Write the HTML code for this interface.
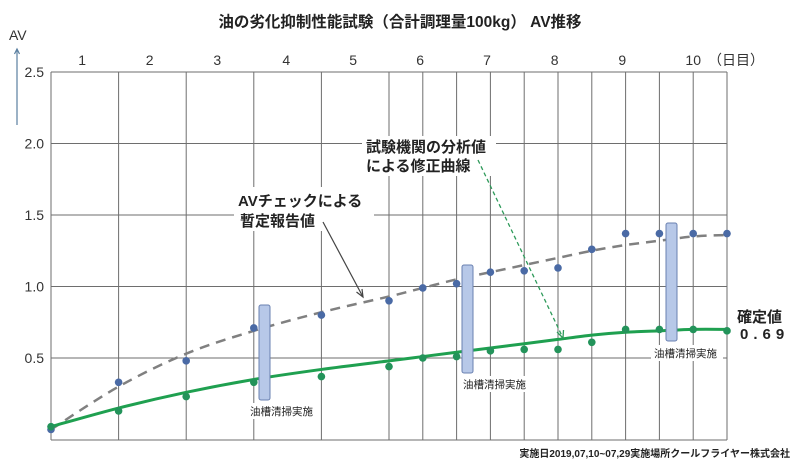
<!DOCTYPE html>
<html><head><meta charset="utf-8"><style>
body{margin:0;background:#fff;}
svg text{font-family:"Liberation Sans","Noto Sans CJK JP",sans-serif;}
</style></head><body>
<svg width="800" height="469" viewBox="0 0 800 469" xmlns="http://www.w3.org/2000/svg">
<g id="grid"></g>
<g id="marks"></g>
</svg>
<script>
const xSlots = [0,1,2,3,4,5,5.5,6,6.5,7,7.5,8,8.5,9,9.5,10];
const avCheck = [0.00,0.33,0.48,0.71,0.80,0.90,0.99,1.02,1.10,1.11,1.13,1.26,1.37,1.37,1.37,1.37];
const avCheckCurve = [0.00,0.30,0.53,0.69,0.82,0.93,0.99,1.05,1.10,1.15,1.20,1.25,1.29,1.32,1.35,1.36];
const lab = [0.02,0.13,0.23,0.33,0.37,0.44,0.50,0.51,0.55,0.56,0.56,0.61,0.70,0.70,0.70,0.69];
const labCurve = [0.02,0.15,0.26,0.35,0.42,0.48,0.51,0.54,0.57,0.60,0.63,0.66,0.68,0.69,0.70,0.70];
const yTicks = [0.5,1.0,1.5,2.0,2.5];
const dayLabels = ['1','2','3','4','5','6','7','8','9','10'];
const dayPos = [0.46,1.46,2.46,3.48,4.47,5.46,6.45,7.45,8.45,9.5];

const NS='http://www.w3.org/2000/svg';
const X0=51, UNIT=67.6;
function xs(v){return X0+v*UNIT;}
function ys(v){return 429.5-v*143;}
function mk(tag,attrs,parent,name,txt){const e=document.createElementNS(NS,tag);for(const k in attrs)e.setAttribute(k,attrs[k]);


if(txt!==undefined)e.textContent=txt;parent.appendChild(e);return e;}
const grid=document.getElementById('grid'), marks=document.getElementById('marks');
xSlots.forEach(s=>mk('line',{x1:xs(s),x2:xs(s),y1:ys(2.5),y2:440,stroke:'#6e6e6e','stroke-width':1},grid,'vertical-gridline'));
yTicks.forEach(t=>{mk('line',{x1:X0,x2:xs(10),y1:ys(t),y2:ys(t),stroke:'#6e6e6e','stroke-width':1},grid,'horizontal-gridline');
mk('text',{x:44,y:ys(t)+5,'text-anchor':'end','font-size':14,fill:'#333'},grid,'y-tick-label',t.toFixed(1));});
mk('line',{x1:X0,x2:xs(10),y1:440,y2:440,stroke:'#6e6e6e','stroke-width':1},grid,'x-axis-line');
dayLabels.forEach((d,i)=>mk('text',{x:xs(dayPos[i]),y:65,'text-anchor':'middle','font-size':14,fill:'#333'},grid,'day-label',d));
mk('text',{x:708,y:65,'font-size':14,fill:'#333'},grid,'day-unit-label','（日目）');
function smooth(arr){const p=arr.map((v,i)=>[xs(xSlots[i]),ys(v)]);let d='M'+p[0];for(let i=0;i<p.length-1;i++){const p0=p[i-1]||p[i],p1=p[i],p2=p[i+1],p3=p[i+2]||p2;
d+=' C'+(p1[0]+(p2[0]-p0[0])/6)+','+(p1[1]+(p2[1]-p0[1])/6)+' '+(p2[0]-(p3[0]-p1[0])/6)+','+(p2[1]-(p3[1]-p1[1])/6)+' '+p2[0]+','+p2[1];}return d;}
mk('path',{d:smooth(avCheckCurve),fill:'none',stroke:'#808080','stroke-width':2.5,'stroke-dasharray':'10,7'},marks,'provisional-av-curve');
mk('path',{d:smooth(labCurve),fill:'none',stroke:'#1fa050','stroke-width':3},marks,'corrected-lab-curve');
avCheck.forEach((v,i)=>mk('circle',{cx:xs(xSlots[i]),cy:ys(v),r:3.8,fill:'#4a6aa5'},marks,'av-check-point'));
lab.forEach((v,i)=>mk('circle',{cx:xs(xSlots[i]),cy:ys(v),r:3.8,fill:'#23935a'},marks,'lab-value-point'));
</script>
<svg width="800" height="469" style="position:absolute;left:0;top:0" xmlns="http://www.w3.org/2000/svg">
<text x="400" y="27" text-anchor="middle" font-size="15.5" font-weight="bold" fill="#222" font-family="Liberation Sans, Noto Sans CJK JP, sans-serif">油の劣化抑制性能試験（合計調理量100kg） AV推移</text>
<text x="9" y="40" font-size="14" fill="#333" font-family="Liberation Sans, sans-serif">AV</text>
<g stroke="#5a7fa0" stroke-width="1.2" fill="none">
<line x1="17" y1="125" x2="17" y2="49"/>
<polyline points="14.5,54 17,49 19.5,54"/>
</g>
<g font-family="Liberation Sans, Noto Sans CJK JP, sans-serif" font-weight="bold" font-size="15" fill="#222">
<rect x="362" y="136" width="134" height="40" fill="#fff"/>
<text x="366" y="152">試験機関の分析値</text>
<text x="366" y="171">による修正曲線</text>
<rect x="234" y="187" width="140" height="44" fill="#fff"/>
<text x="238" y="206">AVチェックによる</text>
<text x="240" y="226">暫定報告値</text>
<text x="737" y="322">確定値</text>
<text x="740" y="339" letter-spacing="5">0.69</text>
</g>
<g stroke="#444" stroke-width="1.2" fill="none">
<line x1="323" y1="222" x2="363" y2="297"/>
<polyline points="356.5,292 363,297 362,289"/>
</g>
<g stroke="#2e9a5a" stroke-width="1.3" fill="none">
<line x1="478" y1="160" x2="563" y2="338" stroke-dasharray="4,3"/>
<polyline points="557,332 563,338 563.5,330"/>
</g>
<g fill="#b7c8e8" stroke="#6a80b0" stroke-width="1">
<rect x="259" y="305" width="11" height="95" rx="2"/>
<rect x="462" y="265" width="11" height="108" rx="2"/>
<rect x="666" y="223" width="11" height="118" rx="2"/>
</g>
<g font-family="Liberation Sans, Noto Sans CJK JP, sans-serif" font-size="10.5" fill="#222">
<rect x="248" y="403" width="66" height="16" fill="#fff"/>
<text x="250" y="415">油槽清掃実施</text>
<rect x="461" y="376" width="66" height="16" fill="#fff"/>
<text x="463" y="388">油槽清掃実施</text>
<rect x="651" y="345" width="72" height="16" fill="#fff"/>
<text x="654" y="357">油槽清掃実施</text>
<text x="790" y="457" text-anchor="end" font-size="10" font-weight="bold">実施日2019,07,10~07,29実施場所クールフライヤー株式会社</text>
</g>
</svg>
</body></html>
